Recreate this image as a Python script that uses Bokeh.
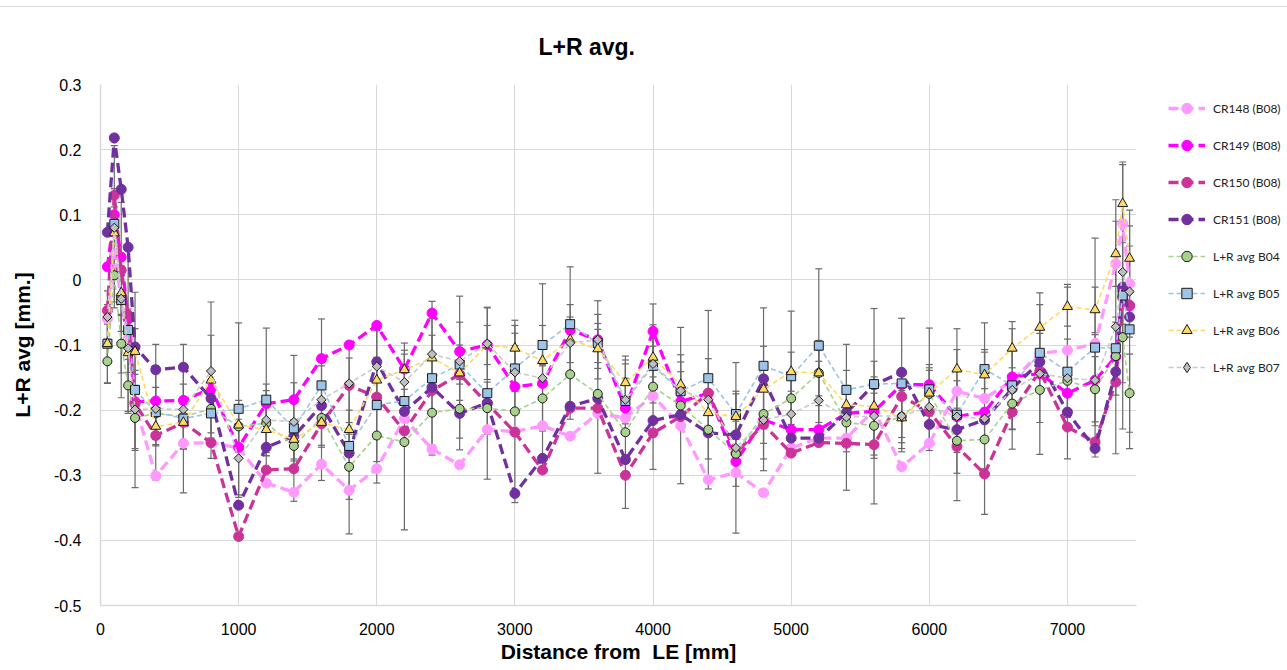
from bokeh.plotting import figure
from bokeh.layouts import row
from bokeh.models import (ColumnDataSource, Legend, LegendItem, FixedTicker,
                          CustomJSTickFormatter, Range1d)
from bokeh.embed import file_html
from bokeh.resources import INLINE

# ---------------- data ----------------
x_mm = [50, 100, 150, 200, 250, 400, 600, 800, 1000, 1200, 1400, 1600, 1800, 2000,
        2200, 2400, 2600, 2800, 3000, 3200, 3400, 3600, 3800, 4000, 4200, 4400,
        4600, 4800, 5000, 5200, 5400, 5600, 5800, 6000, 6200, 6400, 6600, 6800,
        7000, 7200, 7350, 7400, 7450]

cr148 = [-0.06, 0.04, -0.03, -0.09, -0.19, -0.301, -0.251, -0.25, -0.258, -0.312,
         -0.326, -0.283, -0.323, -0.29, -0.213, -0.26, -0.284, -0.23, -0.233, -0.224,
         -0.24, -0.205, -0.212, -0.178, -0.224, -0.307, -0.296, -0.327, -0.258, -0.243,
         -0.243, -0.2, -0.287, -0.251, -0.171, -0.182, -0.155, -0.113, -0.108, -0.098,
         0.025, 0.086, -0.006]
cr149 = [0.02, 0.10, 0.035, -0.06, -0.187, -0.186, -0.185, -0.167, -0.257, -0.19,
         -0.184, -0.121, -0.1, -0.07, -0.137, -0.051, -0.11, -0.1, -0.164, -0.159,
         -0.077, -0.092, -0.197, -0.079, -0.187, -0.174, -0.279, -0.215, -0.23, -0.23,
         -0.205, -0.202, -0.161, -0.161, -0.21, -0.203, -0.149, -0.144, -0.174, -0.154,
         -0.118, -0.015, -0.04]
cr150 = [-0.047, 0.13, 0.015, -0.054, -0.19, -0.239, -0.219, -0.25, -0.394, -0.292,
         -0.29, -0.221, -0.162, -0.18, -0.232, -0.17, -0.145, -0.19, -0.234, -0.292,
         -0.197, -0.197, -0.3, -0.235, -0.21, -0.174, -0.266, -0.222, -0.266, -0.25,
         -0.251, -0.253, -0.179, -0.202, -0.256, -0.298, -0.203, -0.14, -0.226, -0.249,
         -0.157, -0.026, -0.039]
cr151 = [0.073, 0.218, 0.139, 0.05, -0.103, -0.138, -0.134, -0.182, -0.346, -0.257,
         -0.24, -0.193, -0.266, -0.126, -0.202, -0.165, -0.205, -0.189, -0.328, -0.274,
         -0.194, -0.182, -0.276, -0.216, -0.207, -0.235, -0.238, -0.152, -0.243, -0.243,
         -0.204, -0.161, -0.142, -0.222, -0.23, -0.215, -0.167, -0.126, -0.203, -0.259,
         -0.141, -0.011, -0.057]
b04 = [-0.125, 0.007, -0.098, -0.162, -0.212, -0.205, -0.21, -0.198, -0.225, -0.22,
       -0.255, -0.212, -0.287, -0.239, -0.249, -0.204, -0.198, -0.197, -0.202, -0.182,
       -0.145, -0.175, -0.234, -0.164, -0.193, -0.23, -0.267, -0.206, -0.182, -0.143,
       -0.219, -0.224, -0.21, -0.175, -0.247, -0.245, -0.19, -0.169, -0.155, -0.168,
       -0.117, -0.088, -0.174]
b05 = [-0.098, 0.086, -0.031, -0.077, -0.169, -0.203, -0.213, -0.205, -0.198, -0.184,
       -0.228, -0.162, -0.255, -0.192, -0.186, -0.151, -0.13, -0.174, -0.136, -0.1,
       -0.068, -0.097, -0.186, -0.132, -0.171, -0.151, -0.206, -0.132, -0.148, -0.101,
       -0.169, -0.16, -0.159, -0.168, -0.207, -0.137, -0.162, -0.112, -0.141, -0.104,
       -0.105, -0.024, -0.076]
b06 = [-0.098, 0.072, -0.02, -0.112, -0.11, -0.225, -0.219, -0.154, -0.223, -0.23,
       -0.245, -0.219, -0.23, -0.154, -0.138, -0.12, -0.143, -0.1, -0.105, -0.124,
       -0.092, -0.106, -0.158, -0.119, -0.161, -0.204, -0.21, -0.168, -0.141, -0.143,
       -0.192, -0.194, -0.212, -0.174, -0.137, -0.146, -0.105, -0.073, -0.041, -0.046,
       0.04, 0.117, 0.033]
b07 = [-0.057, 0.08, -0.029, -0.105, -0.199, -0.198, -0.199, -0.14, -0.274, -0.215,
       -0.218, -0.184, -0.159, -0.133, -0.157, -0.114, -0.125, -0.098, -0.142, -0.151,
       -0.097, -0.092, -0.184, -0.129, -0.17, -0.184, -0.258, -0.215, -0.206, -0.185,
       -0.211, -0.209, -0.209, -0.195, -0.21, -0.213, -0.169, -0.144, -0.151, -0.154,
       -0.072, 0.012, -0.018]

err_b04 = [0.034, 0.05, 0.045, 0.04, 0.05, 0.04, 0.05, 0.045, 0.04, 0.05, 0.04, 0.045,
           0.05, 0.04, 0.135, 0.05, 0.045, 0.04, 0.14, 0.05, 0.045, 0.122, 0.117, 0.127,
           0.12, 0.045, 0.05, 0.045, 0.04, 0.05, 0.045, 0.05, 0.04, 0.045, 0.05, 0.045,
           0.04, 0.05, 0.045, 0.05, 0.06, 0.07, 0.06]
err_b05 = [0.06, 0.12, 0.15, 0.128, 0.15, 0.104, 0.114, 0.03, 0.132, 0.11, 0.112, 0.03,
           0.135, 0.12, 0.03, 0.118, 0.03, 0.132, 0.035, 0.03, 0.03, 0.03, 0.035, 0.03,
           0.03, 0.03, 0.035, 0.03, 0.1, 0.118, 0.03, 0.035, 0.1, 0.094, 0.132, 0.03,
           0.098, 0.03, 0.134, 0.168, 0.04, 0.205, 0.183]
err_b06 = [0.03, 0.04, 0.035, 0.03, 0.035, 0.03, 0.035, 0.12, 0.03, 0.035, 0.03, 0.035,
           0.03, 0.035, 0.03, 0.035, 0.118, 0.03, 0.035, 0.03, 0.035, 0.03, 0.035, 0.03,
           0.035, 0.03, 0.035, 0.125, 0.03, 0.035, 0.03, 0.15, 0.03, 0.035, 0.03, 0.035,
           0.03, 0.035, 0.03, 0.035, 0.05, 0.06, 0.05]
err_b07 = [0.04, 0.06, 0.05, 0.06, 0.06, 0.055, 0.06, 0.055, 0.06, 0.055, 0.06, 0.124,
           0.06, 0.055, 0.06, 0.055, 0.06, 0.055, 0.06, 0.145, 0.117, 0.06, 0.055, 0.06,
           0.055, 0.137, 0.131, 0.06, 0.055, 0.06, 0.112, 0.06, 0.055, 0.06, 0.055, 0.147,
           0.06, 0.124, 0.06, 0.07, 0.195, 0.08, 0.07]

x_ticks = [0, 1000, 2000, 3000, 4000, 5000, 6000, 7000]
y_ticks = [-0.5, -0.4, -0.3, -0.2, -0.1, 0.0, 0.1, 0.2, 0.3]

cr_names = ["CR148 (B08)", "CR149 (B08)", "CR150 (B08)", "CR151 (B08)"]
cr_values = [cr148, cr149, cr150, cr151]
cr_colors = ["#FF99FF", "#FF00FF", "#CC3399", "#7030A0"]

b_names = ["L+R avg B04", "L+R avg B05", "L+R avg B06", "L+R avg B07"]
b_values = [b04, b05, b06, b07]
b_errors = [err_b04, err_b05, err_b06, err_b07]
b_line_colors = ["#A9D18E", "#9DC3E6", "#FFD966", "#C9C9C9"]
b_fill_colors = ["#A9D18E", "#9DC3E6", "#FFD966", "#BFBFBF"]
b_markers = ["circle", "square", "triangle", "square"]
b_angles = [0.0, 0.0, 0.0, 0.7853982]
b_sizes = [9, 9, 10, 6.5]
b_legend_markers = ["circle", "square", "triangle", "diamond"]

BORDER = {"border-top": "1px solid #D9D9D9", "margin-top": "6px"}

# ---------------- main figure ----------------
p = figure(width=1150, height=663,
           min_border_left=100, min_border_right=14,
           min_border_top=77, min_border_bottom=65,
           x_range=Range1d(0, 7500), y_range=Range1d(-0.5, 0.3),
           output_backend="svg", toolbar_location=None,
           title="L+R avg.")
p.styles = BORDER
p.outline_line_color = None
p.background_fill_color = "white"
p.border_fill_color = "white"

p.title.text_font = "Liberation Sans"
p.title.text_font_size = "23px"
p.title.text_font_style = "bold"
p.title.text_color = "#000000"
p.title.align = "left"
p.title.offset = 438
p.title.standoff = 49

for ax in (p.xaxis[0], p.yaxis[0]):
    ax.major_tick_line_color = None
    ax.minor_tick_line_color = None
    ax.axis_line_color = "#D9D9D9"
    ax.axis_line_width = 1.5
    ax.major_label_text_font = "Liberation Sans"
    ax.major_label_text_font_size = "16px"
    ax.major_label_text_color = "#000000"
    ax.axis_label_text_font = "Liberation Sans"
    ax.axis_label_text_font_size = "21px"
    ax.axis_label_text_font_style = "bold"
    ax.axis_label_text_color = "#000000"

p.xaxis.ticker = FixedTicker(ticks=x_ticks)
p.yaxis.ticker = FixedTicker(ticks=y_ticks)
p.yaxis.formatter = CustomJSTickFormatter(
    code="return Math.abs(tick) < 1e-9 ? '0' : tick.toFixed(1);")
p.xaxis.major_label_standoff = 11
p.yaxis.major_label_standoff = 13
p.xaxis.axis_label = "Distance from\u00a0 LE [mm]"
p.yaxis.axis_label = "L+R avg [mm.]"
p.xaxis.axis_label_standoff = 2
p.yaxis.axis_label_standoff = 17

p.xgrid.grid_line_color = "#D9D9D9"
p.ygrid.grid_line_color = "#D9D9D9"
p.xgrid.ticker = FixedTicker(ticks=x_ticks)
p.ygrid.ticker = FixedTicker(ticks=y_ticks)

# error bars (all first)
for vals, errs in zip(b_values, b_errors):
    src = ColumnDataSource(dict(
        x=x_mm,
        lo=[v - e for v, e in zip(vals, errs)],
        hi=[v + e for v, e in zip(vals, errs)]))
    p.segment(x0="x", y0="lo", x1="x", y1="hi", source=src,
              line_color="#6A6A6A", line_width=1.2)
    p.scatter(x="x", y="lo", source=src, marker="dash", size=7,
              line_color="#6A6A6A", line_width=1.2)
    p.scatter(x="x", y="hi", source=src, marker="dash", size=7,
              line_color="#6A6A6A", line_width=1.2)

# ---------------- legend figure (its frame is aligned with the main frame) ----
lg = figure(width=137, height=663, min_border=0,
            x_range=Range1d(0, 1), y_range=Range1d(0, 1),
            x_axis_type=None, y_axis_type=None,
            output_backend="svg", toolbar_location=None)
lg.styles = BORDER
lg.outline_line_color = None
lg.xgrid.visible = False
lg.ygrid.visible = False
lg.background_fill_color = "white"
lg.border_fill_color = "white"

items = []
for name, vals, col in zip(cr_names, cr_values, cr_colors):
    src = ColumnDataSource(dict(x=x_mm, y=vals))
    line_kw = dict(line_color=col, line_width=3.3, line_dash="10 5")
    mark_kw = dict(marker="circle", size=10, fill_color=col, line_color=col)
    p.line("x", "y", source=src, **line_kw)
    p.scatter("x", "y", source=src, **mark_kw)
    # same series in the legend panel (outside its visible range; only the key shows)
    l1 = lg.line("x", "y", source=src, **line_kw)
    l2 = lg.scatter("x", "y", source=src, **mark_kw)
    items.append(LegendItem(label=name, renderers=[l1, l2]))

for name, vals, lc, fc, mk, ang, sz, lmk in zip(b_names, b_values, b_line_colors,
                                                b_fill_colors, b_markers, b_angles,
                                                b_sizes, b_legend_markers):
    src = ColumnDataSource(dict(x=x_mm, y=vals))
    line_kw = dict(line_color=lc, line_width=1.6, line_dash="5 3")
    p.line("x", "y", source=src, **line_kw)
    p.scatter("x", "y", source=src, marker=mk, size=sz, angle=ang,
              fill_color=fc, line_color="#1a1a1a", line_width=1)
    l1 = lg.line("x", "y", source=src, **line_kw)
    l2 = lg.scatter("x", "y", source=src, marker=lmk, size=sz,
                    fill_color=fc, line_color="#1a1a1a", line_width=1)
    items.append(LegendItem(label=name, renderers=[l1, l2]))

legend = Legend(items=items, location=(18, 225))
legend.label_text_font = "Lato"
legend.label_text_font_size = "12px"
legend.label_text_color = "#222222"
legend.glyph_width = 37
legend.glyph_height = 26
legend.label_height = 26
legend.spacing = 11
legend.label_standoff = 8
legend.padding = 0
legend.margin = 0
legend.border_line_color = None
legend.background_fill_alpha = 0
lg.add_layout(legend)

layout = row(p, lg, spacing=0)
open("out.html", "w").write(file_html(layout, INLINE))
